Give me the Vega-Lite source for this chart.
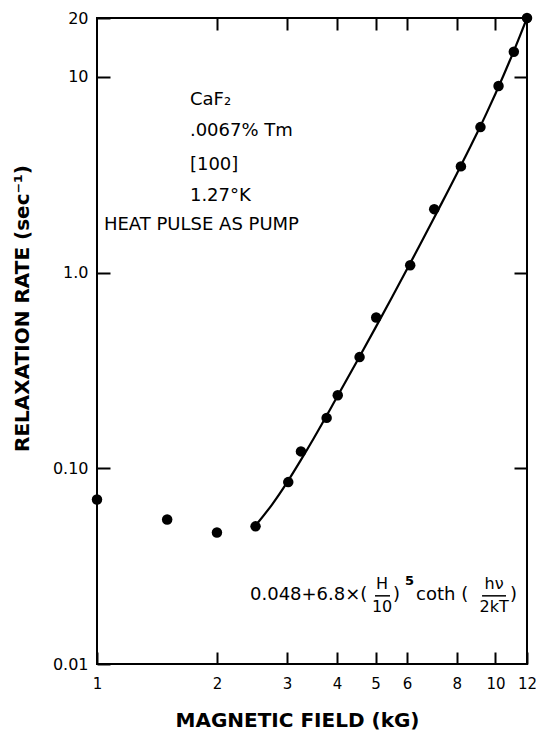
{
  "$schema": "https://vega.github.io/schema/vega-lite/v6.json",
  "width": 430,
  "height": 646,
  "autosize": {"type": "none"},
  "padding": {"left": 97, "top": 18, "right": 9, "bottom": 70},
  "background": "white",
  "config": {
    "font": "DejaVu Sans",
    "view": {"stroke": "black", "strokeWidth": 2}
  },
  "datasets": {
    "points": [
      {"field": 1.0, "rate": 0.0693},
      {"field": 1.5, "rate": 0.0547},
      {"field": 2.0, "rate": 0.047},
      {"field": 2.5, "rate": 0.0505},
      {"field": 3.02, "rate": 0.085},
      {"field": 3.25, "rate": 0.122},
      {"field": 3.77, "rate": 0.181},
      {"field": 4.02, "rate": 0.236},
      {"field": 4.56, "rate": 0.37},
      {"field": 5.02, "rate": 0.59},
      {"field": 6.11, "rate": 1.09},
      {"field": 7.02, "rate": 2.11},
      {"field": 8.19, "rate": 3.49},
      {"field": 9.17, "rate": 5.54},
      {"field": 10.18, "rate": 8.99},
      {"field": 11.12, "rate": 13.45},
      {"field": 12.0, "rate": 20.0}
    ],
    "curve": [
      {"field": 2.5, "rate": 0.051},
      {"field": 2.75, "rate": 0.0653},
      {"field": 3.0, "rate": 0.0848},
      {"field": 3.25, "rate": 0.1104},
      {"field": 3.5, "rate": 0.1425},
      {"field": 4.0, "rate": 0.2306},
      {"field": 4.5, "rate": 0.3544},
      {"field": 5.0, "rate": 0.5235},
      {"field": 5.5, "rate": 0.7485},
      {"field": 6.0, "rate": 1.042},
      {"field": 6.5, "rate": 1.415},
      {"field": 7.0, "rate": 1.889},
      {"field": 7.5, "rate": 2.48},
      {"field": 8.0, "rate": 3.2},
      {"field": 8.5, "rate": 4.1},
      {"field": 9.0, "rate": 5.18},
      {"field": 9.5, "rate": 6.53},
      {"field": 10.0, "rate": 8.2},
      {"field": 10.5, "rate": 10.28},
      {"field": 11.0, "rate": 12.85},
      {"field": 11.5, "rate": 16.05},
      {"field": 12.0, "rate": 20.0}
    ],
    "notes": [
      {"field": 1.711, "rate": 7.6, "label": "CaF₂"},
      {"field": 1.711, "rate": 5.285, "label": ".0067% Tm"},
      {"field": 1.711, "rate": 3.538, "label": "[100]"},
      {"field": 1.711, "rate": 2.453, "label": "1.27°K"},
      {"field": 1.041, "rate": 1.742, "label": "HEAT PULSE AS PUMP"}
    ],
    "formulaInline": [
      {"field": 2.421, "rate": 0.0226, "label": "0.048+6.8×("},
      {"field": 5.53, "rate": 0.0226, "label": ")"},
      {"field": 6.32, "rate": 0.0226, "label": "coth ("},
      {"field": 10.88, "rate": 0.0226, "label": ")"}
    ],
    "formulaFractions": [
      {"field": 5.193, "rate": 0.0256, "label": "H"},
      {"field": 5.193, "rate": 0.0195, "label": "10"},
      {"field": 9.92, "rate": 0.0256, "label": "hν"},
      {"field": 9.92, "rate": 0.0195, "label": "2kT"}
    ],
    "formulaPower": [
      {"field": 5.93, "rate": 0.0264, "label": "5"}
    ],
    "fractionBars": [
      {"field": 4.986, "field2": 5.437, "rate": 0.0223},
      {"field": 9.255, "field2": 10.63, "rate": 0.0223}
    ]
  },
  "layer": [
    {
      "data": {"name": "curve"},
      "mark": {"type": "line", "color": "black", "strokeWidth": 2.2, "interpolate": "monotone"},
      "encoding": {
        "x": {"field": "field", "type": "quantitative", "scale": {"type": "log", "domain": [1, 12], "nice": false}, "axis": null},
        "y": {"field": "rate", "type": "quantitative", "scale": {"type": "log", "domain": [0.01, 20], "nice": false}, "axis": null}
      }
    },
    {
      "data": {"name": "points"},
      "mark": {"type": "circle", "size": 110, "color": "black", "opacity": 1},
      "encoding": {
        "x": {
          "field": "field", "type": "quantitative",
          "scale": {"type": "log", "domain": [1, 12], "nice": false},
          "axis": {
            "orient": "bottom", "values": [1, 2, 3, 4, 5, 6, 8, 10, 12], "format": "d",
            "domain": false, "grid": false,
            "tickSize": -12, "tickWidth": 2, "tickColor": "black",
            "labelFont": "DejaVu Sans", "labelFontSize": 15, "labelColor": "black",
            "labelPadding": 24, "labelOverlap": false, "labelFlush": false,
            "title": "MAGNETIC FIELD (kG)", "titleFont": "DejaVu Sans", "titleFontSize": 20,
            "titleFontWeight": "bold", "titleColor": "black",
            "titleX": 200, "titleY": 56, "titleBaseline": "middle", "titleAlign": "center"
          }
        },
        "y": {
          "field": "rate", "type": "quantitative",
          "scale": {"type": "log", "domain": [0.01, 20], "nice": false},
          "axis": {
            "orient": "left", "values": [0.01, 0.1, 1, 10, 20],
            "labelExpr": "datum.value < 0.05 ? '0.01' : datum.value < 0.5 ? '0.10' : datum.value < 5 ? '1.0' : datum.value < 15 ? '10' : '20'",
            "domain": false, "grid": false,
            "tickSize": -13, "tickWidth": 2, "tickColor": "black",
            "labelFont": "DejaVu Sans", "labelFontSize": 16, "labelColor": "black",
            "labelPadding": 22, "labelOverlap": false, "labelFlush": false, "labelBaseline": "middle",
            "title": "RELAXATION RATE (sec⁻¹)", "titleFont": "DejaVu Sans", "titleFontSize": 20,
            "titleFontWeight": "bold", "titleColor": "black", "titleAngle": -90,
            "titleX": -75, "titleY": 290, "titleBaseline": "middle", "titleAlign": "center"
          }
        }
      }
    },
    {
      "data": {"name": "points"},
      "mark": {"type": "circle", "opacity": 0},
      "encoding": {
        "x": {
          "field": "field", "type": "quantitative",
          "scale": {"type": "log", "domain": [1, 12], "nice": false},
          "axis": {
            "orient": "top", "values": [2, 3, 4, 5, 6, 8, 10],
            "domain": false, "grid": false, "labels": false, "title": null,
            "tickSize": -12, "tickWidth": 2, "tickColor": "black"
          }
        },
        "y": {
          "field": "rate", "type": "quantitative",
          "scale": {"type": "log", "domain": [0.01, 20], "nice": false},
          "axis": {
            "orient": "right", "values": [0.1, 1, 10],
            "domain": false, "grid": false, "labels": false, "title": null,
            "tickSize": -13, "tickWidth": 2, "tickColor": "black"
          }
        }
      }
    },
    {
      "data": {"name": "notes"},
      "mark": {"type": "text", "align": "left", "baseline": "middle", "font": "DejaVu Sans", "fontSize": 18, "color": "black"},
      "encoding": {
        "x": {"field": "field", "type": "quantitative", "scale": {"type": "log", "domain": [1, 12], "nice": false}, "axis": null},
        "y": {"field": "rate", "type": "quantitative", "scale": {"type": "log", "domain": [0.01, 20], "nice": false}, "axis": null},
        "text": {"field": "label"}
      }
    },
    {
      "data": {"name": "formulaInline"},
      "mark": {"type": "text", "align": "left", "baseline": "middle", "font": "DejaVu Sans", "fontSize": 18, "color": "black"},
      "encoding": {
        "x": {"field": "field", "type": "quantitative", "scale": {"type": "log", "domain": [1, 12], "nice": false}, "axis": null},
        "y": {"field": "rate", "type": "quantitative", "scale": {"type": "log", "domain": [0.01, 20], "nice": false}, "axis": null},
        "text": {"field": "label"}
      }
    },
    {
      "data": {"name": "formulaFractions"},
      "mark": {"type": "text", "align": "center", "baseline": "middle", "font": "DejaVu Sans", "fontSize": 16, "color": "black"},
      "encoding": {
        "x": {"field": "field", "type": "quantitative", "scale": {"type": "log", "domain": [1, 12], "nice": false}, "axis": null},
        "y": {"field": "rate", "type": "quantitative", "scale": {"type": "log", "domain": [0.01, 20], "nice": false}, "axis": null},
        "text": {"field": "label"}
      }
    },
    {
      "data": {"name": "formulaPower"},
      "mark": {"type": "text", "align": "left", "baseline": "middle", "font": "DejaVu Sans", "fontSize": 13, "fontWeight": "bold", "color": "black"},
      "encoding": {
        "x": {"field": "field", "type": "quantitative", "scale": {"type": "log", "domain": [1, 12], "nice": false}, "axis": null},
        "y": {"field": "rate", "type": "quantitative", "scale": {"type": "log", "domain": [0.01, 20], "nice": false}, "axis": null},
        "text": {"field": "label"}
      }
    },
    {
      "data": {"name": "fractionBars"},
      "mark": {"type": "rule", "color": "black", "strokeWidth": 1.5},
      "encoding": {
        "x": {"field": "field", "type": "quantitative", "scale": {"type": "log", "domain": [1, 12], "nice": false}, "axis": null},
        "x2": {"field": "field2"},
        "y": {"field": "rate", "type": "quantitative", "scale": {"type": "log", "domain": [0.01, 20], "nice": false}, "axis": null}
      }
    }
  ],
  "resolve": {"axis": {"x": "independent", "y": "independent"}}
}
